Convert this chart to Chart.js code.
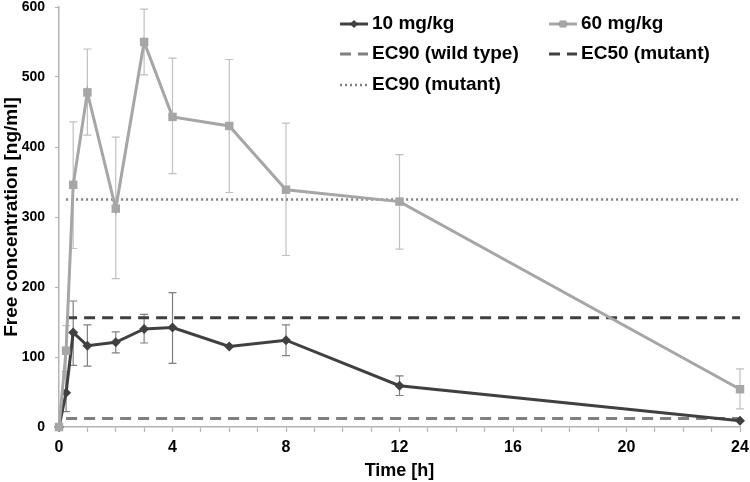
<!DOCTYPE html>
<html lang="en">
<head>
  <meta charset="UTF-8" />
  <title>Free concentration</title>
  <script src="https://cdn.jsdelivr.net/npm/chart.js@4.4.0/dist/chart.umd.min.js"></script>
  <style>
    html, body { margin: 0; padding: 0; background: #fff; }
  </style>
</head>
<body>
  <canvas id="pkChart" width="750" height="482"></canvas>

  <script>
    // sampling times [h]
    const times = [0, 0.25, 0.5, 1, 2, 3, 4, 6, 8, 12, 24];

    // 10 mg/kg
    const conc10 = [0, 49, 135, 116, 121, 140, 142, 115, 124, 59, 9];
    const low10 = [0, 22, 88, 87, 106, 120, 91, 115, 102, 45, 9];
    const high10 = [0, 79, 180, 146, 136, 161, 192, 115, 146, 73, 9];

    // 60 mg/kg
    const conc60 = [0, 109, 346, 478, 312, 550, 443, 430, 339, 322, 54];
    const low60 = [0, 75, 255, 417, 212, 503, 362, 335, 245, 254, 26];
    const high60 = [0, 145, 436, 540, 414, 597, 527, 525, 434, 389, 83];

    // reference levels
    const lineTimes = [0.25, 24];
    const ec90Wild = 12;
    const ec50Mutant = 156;
    const ec90Mutant = 325;

    const xTicks = [0, 4, 8, 12, 16, 20, 24];

    function pts(xs, ys) {
      return xs.map((x, i) => ({ x: x, y: ys[i] }));
    }
    function flat(v) {
      return lineTimes.map(x => ({ x: x, y: v }));
    }

    // error bars drawn under the markers
    const errorBars = {
      id: "errorBars",
      beforeDatasetsDraw(chart) {
        const ctx = chart.ctx;
        const xs = chart.scales.x, ys = chart.scales.y;
        chart.data.datasets.forEach((ds) => {
          if (!ds.errLow) return;
          ctx.save();
          ctx.strokeStyle = ds.errColor;
          ctx.lineWidth = 1.2;
          ds.data.forEach((p, i) => {
            const lo = ds.errLow[i], hi = ds.errHigh[i];
            if (lo === hi) return;
            const px = xs.getPixelForValue(p.x);
            const y1 = ys.getPixelForValue(lo), y2 = ys.getPixelForValue(hi);
            ctx.beginPath();
            ctx.moveTo(px, y1); ctx.lineTo(px, y2);
            ctx.moveTo(px - 4, y1); ctx.lineTo(px + 4, y1);
            ctx.moveTo(px - 4, y2); ctx.lineTo(px + 4, y2);
            ctx.stroke();
          });
          ctx.restore();
        });
      }
    };

    // two-column legend like the original
    const gridLegend = {
      id: "gridLegend",
      afterDraw(chart) {
        const ctx = chart.ctx;
        const cols = [340, 549];
        const rows = [24, 54, 85];
        const order = [0, 1, 2, 3, 4];
        ctx.save();
        ctx.font = "bold 19px 'Liberation Sans', Arial, sans-serif";
        ctx.textBaseline = "middle";
        ctx.fillStyle = "#000";
        order.forEach((dsIndex, k) => {
          const ds = chart.data.datasets[dsIndex];
          const x0 = cols[k % 2], y = rows[Math.floor(k / 2)];
          ctx.save();
          ctx.strokeStyle = ds.borderColor;
          ctx.lineWidth = ds.borderWidth;
          ctx.setLineDash(ds.borderDash || []);
          ctx.beginPath();
          ctx.moveTo(x0, y); ctx.lineTo(x0 + 28, y);
          ctx.stroke();
          ctx.restore();
          if (ds.pointRadius > 0) {
            Chart.helpers.drawPoint(ctx, {
              pointStyle: ds.pointStyle, radius: ds.pointRadius * 0.75, rotation: 0, borderWidth: 0
            }, x0 + 14, y);
            ctx.fillStyle = ds.pointBackgroundColor;
            ctx.fill();
            ctx.fillStyle = "#000";
          }
          ctx.fillText(ds.label, x0 + 32, y);
        });
        ctx.restore();
      }
    };

    const darkGray = "#404040";
    const lightGray = "#a6a6a6";

    new Chart(document.getElementById("pkChart").getContext("2d"), {
      type: "line",
      data: {
        datasets: [
          {
            label: "10 mg/kg",
            data: pts(times, conc10),
            errLow: low10, errHigh: high10, errColor: "#7f7f7f",
            borderColor: darkGray, backgroundColor: darkGray,
            pointBackgroundColor: darkGray, pointBorderWidth: 0,
            borderWidth: 3, pointStyle: "rectRot", pointRadius: 5,
            order: 2, clip: false
          },
          {
            label: "60 mg/kg",
            data: pts(times, conc60),
            errLow: low60, errHigh: high60, errColor: "#c0c0c0",
            borderColor: lightGray, backgroundColor: lightGray,
            pointBackgroundColor: lightGray, pointBorderWidth: 0,
            borderWidth: 3, pointStyle: "rect", pointRadius: 6,
            order: 1, clip: false
          },
          {
            label: "EC90 (wild type)",
            data: flat(ec90Wild),
            borderColor: "#7f7f7f", borderWidth: 3, borderDash: [11, 7],
            pointRadius: 0, order: 5
          },
          {
            label: "EC50 (mutant)",
            data: flat(ec50Mutant),
            borderColor: darkGray, borderWidth: 3, borderDash: [11, 7],
            pointRadius: 0, order: 4
          },
          {
            label: "EC90 (mutant)",
            data: flat(ec90Mutant),
            borderColor: "#808080", borderWidth: 2.5, borderDash: [2, 3],
            pointRadius: 0, order: 3
          }
        ]
      },
      options: {
        responsive: false,
        animation: false,
        layout: { padding: { top: 7, right: 10, left: 0, bottom: 0 } },
        plugins: {
          legend: { display: false },
          tooltip: { enabled: false }
        },
        scales: {
          x: {
            type: "linear",
            min: 0, max: 24,
            afterFit: (s) => { s.height = 55; s.paddingLeft = 0; s.paddingRight = 0; },
            border: { color: "#b4b4b4", width: 1.5 },
            grid: { drawOnChartArea: false, tickLength: 5, color: "#b4b4b4", tickWidth: 1.2 },
            ticks: {
              stepSize: 1, autoSkip: false, maxRotation: 0, padding: 6,
              color: "#000",
              font: { family: "'Liberation Sans', Arial", size: 16, weight: "bold" },
              callback: (v) => xTicks.includes(v) ? String(v) : ""
            },
            title: {
              display: true, text: "Time [h]", color: "#000", padding: { top: 2, bottom: 0 },
              font: { family: "'Liberation Sans', Arial", size: 18, weight: "bold" }
            }
          },
          y: {
            min: 0, max: 600,
            afterFit: (s) => { s.width = 59; s.paddingTop = 0; s.paddingBottom = 0; },
            border: { color: "#b4b4b4", width: 1.5 },
            grid: { drawOnChartArea: false, tickLength: 4, color: "#b4b4b4", tickWidth: 1.2 },
            ticks: {
              stepSize: 100, padding: 10, color: "#000",
              font: { family: "'Liberation Sans', Arial", size: 14, weight: "bold" }
            },
            title: {
              display: true, text: "Free concentration [ng/ml]", color: "#000",
              padding: { top: 0, bottom: 0 },
              font: { family: "'Liberation Sans', Arial", size: 19, weight: "bold" }
            }
          }
        }
      },
      plugins: [errorBars, gridLegend]
    });
  </script>
</body>
</html>
